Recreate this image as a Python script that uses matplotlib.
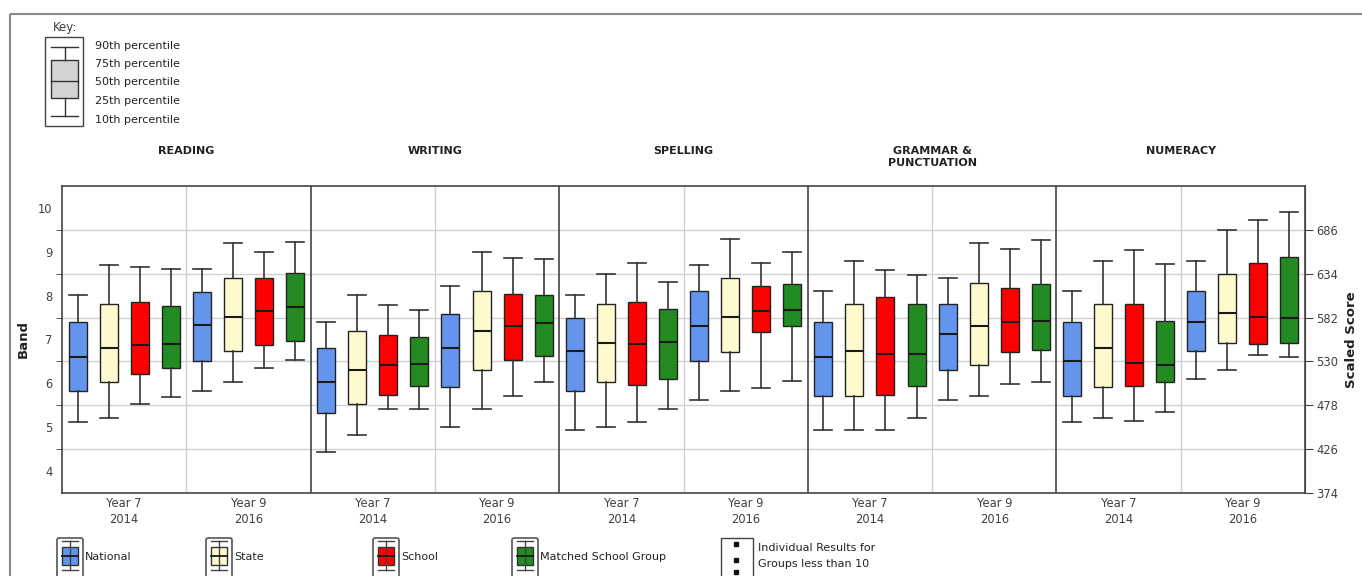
import matplotlib
matplotlib.use("Agg")
import matplotlib.pyplot as plt
from matplotlib.patches import Rectangle, FancyBboxPatch

# data (band units), order per subject: Y7 Nat, State, School, Matched, Y9 Nat, State, School, Matched
subjects = ["READING", "WRITING", "SPELLING", "GRAMMAR &\nPUNCTUATION", "NUMERACY"]
groups = ["National", "State", "School", "Matched School Group"]
year_labels = ["Year 7\n2014", "Year 9\n2016"]
colors = ["#6495ED", "#FFFACD", "#FF0000", "#228B22"]

p90 = [[8.01, 8.69, 8.66, 8.60, 8.60, 9.19, 8.99, 9.22],
       [7.39, 8.01, 7.79, 7.67, 8.22, 8.99, 8.86, 8.84],
       [8.01, 8.49, 8.75, 8.32, 8.69, 9.30, 8.75, 8.99],
       [8.10, 8.80, 8.58, 8.47, 8.41, 9.19, 9.06, 9.28],
       [8.10, 8.80, 9.03, 8.72, 8.80, 9.50, 9.73, 9.91]]
p75 = [[7.39, 7.82, 7.85, 7.76, 8.09, 8.41, 8.41, 8.51],
       [6.80, 7.20, 7.11, 7.05, 7.59, 8.10, 8.04, 8.01],
       [7.50, 7.82, 7.85, 7.70, 8.10, 8.41, 8.21, 8.26],
       [7.39, 7.82, 7.98, 7.82, 7.82, 8.29, 8.18, 8.26],
       [7.39, 7.82, 7.82, 7.43, 8.10, 8.49, 8.75, 8.88]]
p50 = [[6.61, 6.81, 6.87, 6.90, 7.32, 7.51, 7.65, 7.74],
       [6.02, 6.31, 6.41, 6.44, 6.81, 7.20, 7.31, 7.37],
       [6.73, 6.93, 6.90, 6.95, 7.31, 7.51, 7.65, 7.68],
       [6.61, 6.73, 6.67, 6.67, 7.12, 7.31, 7.40, 7.43],
       [6.50, 6.81, 6.47, 6.41, 7.39, 7.60, 7.51, 7.48]]
p25 = [[5.83, 6.02, 6.22, 6.36, 6.50, 6.73, 6.87, 6.96],
       [5.32, 5.52, 5.74, 5.94, 5.91, 6.30, 6.53, 6.63],
       [5.83, 6.02, 5.96, 6.10, 6.50, 6.72, 7.18, 7.31],
       [5.71, 5.71, 5.74, 5.94, 6.30, 6.41, 6.72, 6.75],
       [5.71, 5.91, 5.94, 6.02, 6.73, 6.92, 6.90, 6.93]]
p10 = [[5.12, 5.21, 5.52, 5.69, 5.83, 6.02, 6.36, 6.53],
       [4.43, 4.82, 5.41, 5.41, 5.01, 5.41, 5.71, 6.04],
       [4.93, 5.01, 5.12, 5.41, 5.63, 5.83, 5.89, 6.05],
       [4.93, 4.93, 4.93, 5.21, 5.63, 5.71, 5.99, 6.04],
       [5.12, 5.21, 5.15, 5.35, 6.10, 6.31, 6.64, 6.61]]

band_ticks = [4, 5, 6, 7, 8, 9, 10]
score_ticks = [374, 426, 478, 530, 582, 634, 686]

TXT = "#404040"
fig = plt.figure(figsize=(13.62, 5.76), dpi=100)

# overlay in pixel coords for key / legend decorations
ov = fig.add_axes([0, 0, 1, 1])
ov.set_xlim(0, 1362)
ov.set_ylim(576, 0)
ov.set_axis_off()
ov.add_patch(Rectangle((10, 14), 1400, 600, fill=False, ec="#888888", lw=1.5))

ax = fig.add_axes([62 / 1362, 1 - 493 / 576, 1243 / 1362, 307 / 576])

for s in range(5):
    stats = []
    for i in range(8):
        stats.append(dict(whislo=p10[s][i], q1=p25[s][i], med=p50[s][i],
                          q3=p75[s][i], whishi=p90[s][i], fliers=[]))
    pos = [s * 8 + i for i in range(8)]
    bp = ax.bxp(stats, positions=pos, widths=0.58, capwidths=0.58,
                patch_artist=True, showfliers=False, manage_ticks=False,
                boxprops=dict(ec="#222222", lw=1.0),
                medianprops=dict(color="#1a1a1a", lw=1.5),
                whiskerprops=dict(color="#333333", lw=1.2),
                capprops=dict(color="#333333", lw=1.2))
    for i, b in enumerate(bp["boxes"]):
        b.set_facecolor(colors[i % 4])
    ax.text(s * 8 + 3.5, 1.13, subjects[s], transform=ax.get_xaxis_transform(),
            ha="center", va="top", fontsize=8, fontweight="bold", color="#222222")
    ax.axvline(s * 8 + 3.5, color="#d0d0d0", lw=1, zorder=0)
    if s > 0:
        ax.axvline(s * 8 - 0.5, color="#444444", lw=1.2, zorder=1)

ax.set_xlim(-0.5, 39.5)
ax.set_ylim(3.5, 10.5)
ax.set_yticks(band_ticks)
ax.set_yticks([b + 0.5 for b in band_ticks[:-1]], minor=True)
ax.grid(True, which="minor", axis="y", color="#d0d0d0", lw=1)
ax.set_axisbelow(True)
ax.tick_params(axis="y", which="major", length=0, pad=7, labelsize=8.3, labelcolor=TXT)
ax.tick_params(axis="y", which="minor", length=4, color="#444444")
ax.set_xticks([s * 8 + g * 4 + 1.5 for s in range(5) for g in range(2)])
ax.set_xticklabels(year_labels * 5, fontsize=8.3, color=TXT, linespacing=1.3)
ax.tick_params(axis="x", length=0, pad=3)
for sp in ax.spines.values():
    sp.set_color("#444444")
    sp.set_linewidth(1.2)
ax.text(-0.031, 0.5, "Band", rotation=90, transform=ax.transAxes, ha="center",
        va="center", fontsize=9.5, fontweight="bold", color="#222222")

sec = ax.secondary_yaxis("right", functions=(lambda b: 52 * b + 192, lambda v: (v - 192) / 52))
sec.set_yticks(score_ticks)
sec.tick_params(length=6, pad=2, labelsize=8.3, labelcolor=TXT, color="#444444")
sec.spines["right"].set_color("#444444")
ax.text(1.0375, 0.5, "Scaled Score", rotation=90, transform=ax.transAxes, ha="center",
        va="center", fontsize=9.5, fontweight="bold", color="#222222")

# key
ov.text(53, 31, "Key:", fontsize=8.5, color=TXT, va="baseline")
ov.add_patch(Rectangle((45, 37), 38, 89, fill=False, ec="#444444", lw=1))
ov.add_patch(Rectangle((51, 60), 27, 38, fc="#d3d3d3", ec="#333333", lw=1))
ov.plot([51, 78], [81, 81], color="#333333", lw=1)
for y in (47, 116):
    ov.plot([51, 78], [y, y], color="#333333", lw=1)
ov.plot([64.5, 64.5], [47, 60], color="#333333", lw=1)
ov.plot([64.5, 64.5], [98, 116], color="#333333", lw=1)
for y, t in zip([46, 64, 82, 101, 120], ["90th percentile", "75th percentile", "50th percentile",
                                       "25th percentile", "10th percentile"]):
    ov.text(95, y, t, fontsize=8, color="#222222", va="center")

# bottom legend
for x0, c, lab in zip([57, 206, 373, 512], colors, groups):
    ov.add_patch(FancyBboxPatch((x0, 538), 26, 42, boxstyle="round,pad=0,rounding_size=2",
                                fill=False, ec="#555555", lw=1.2))
    cx = x0 + 13
    ov.plot([cx, cx], [541, 570], color="#444444", lw=1)
    ov.plot([cx - 8, cx + 8], [541, 541], color="#444444", lw=1)
    ov.plot([cx - 8, cx + 8], [570, 570], color="#444444", lw=1)
    ov.add_patch(Rectangle((cx - 8, 547), 16, 18, fc=c, ec="#333333", lw=1))
    ov.plot([cx - 8, cx + 8], [556, 556], color="#1a1a1a", lw=1.3)
    ov.text(x0 + 28, 557, lab, fontsize=8, color="#222222", va="center")

ov.add_patch(Rectangle((721, 538), 32, 45, fill=False, ec="#444444", lw=1))
ov.plot([736, 736, 736], [544, 560, 572], ls="none", marker="s", ms=2.5, color="#111111")
ov.text(758, 548, "Individual Results for", fontsize=8, color="#222222", va="center")
ov.text(758, 564, "Groups less than 10", fontsize=8, color="#222222", va="center")

fig.savefig("out.png", dpi=100)
